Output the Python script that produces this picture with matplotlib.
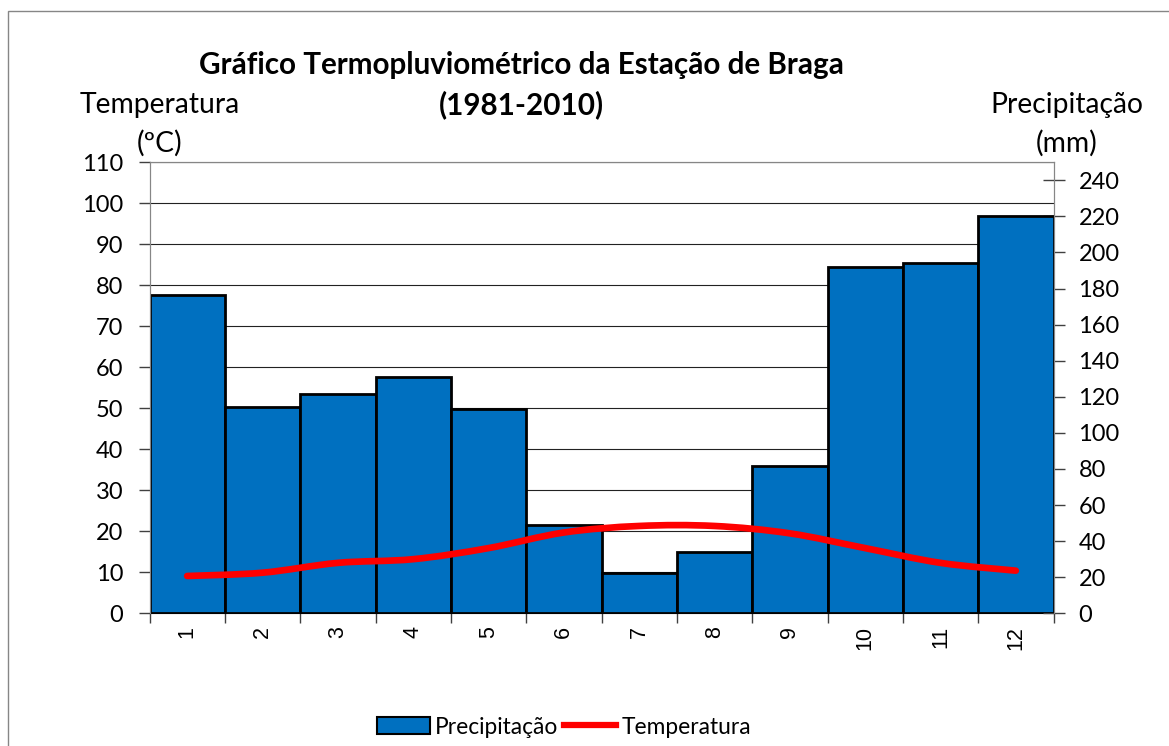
import numpy as np
import matplotlib
matplotlib.use("Agg")
import matplotlib.pyplot as plt
from matplotlib.path import Path
from matplotlib.patches import PathPatch, Rectangle, Patch
from matplotlib.lines import Line2D

# dados (normais 1981-2010, Braga)
meses = [1, 2, 3, 4, 5, 6, 7, 8, 9, 10, 11, 12]
precipitacao = [176.4, 114.5, 121.8, 130.8, 113.2, 48.9, 22.2, 34.1, 81.7, 192.0, 194.2, 220.4]
temperatura = [9.1, 9.9, 12.3, 13.2, 15.9, 19.7, 21.3, 21.3, 19.5, 15.9, 12.3, 10.4]
temp_ticks = list(range(0, 111, 10))
prec_ticks = list(range(0, 241, 20))

W, H = 1169, 746
plt.rcParams['font.family'] = ['Lato', 'DejaVu Sans']

fig = plt.figure(figsize=(W / 100, H / 100), dpi=100)

def fx(px):
    return px / W

def fy(py):
    return 1 - py / H

# moldura da área do gráfico
fig.patches.append(Rectangle((fx(8), -0.1), 1.2, fy(11.5) + 0.1, transform=fig.transFigure,
                             fill=False, edgecolor='#868686', lw=1.0, zorder=0))

ax = fig.add_axes([fx(149.5), fy(613.3), (1053.5 - 149.5) / W, (613.3 - 162.3) / H])
axr = ax.twinx()

ax.set_xlim(0.5, 12.5)
ax.set_ylim(0, 110)
axr.set_ylim(0, 250)

# grelha (eixo da temperatura) fica atrás das barras
ax.set_yticks(temp_ticks)
ax.yaxis.grid(True, color='#222222', lw=0.8)
ax.set_axisbelow(True)

azul = '#0070C0'
axr.bar(meses, precipitacao, width=1.0, color=azul, edgecolor='black', lw=2.0, zorder=2)

# linha suavizada (bezier tipo Catmull-Rom) desenhada sobre as barras
pts = np.column_stack([meses, temperatura]).astype(float)
verts = [tuple(pts[0])]
codes = [Path.MOVETO]
n = len(pts)
for i in range(n - 1):
    p0 = pts[i - 1] if i > 0 else pts[i]
    p1 = pts[i]
    p2 = pts[i + 1]
    p3 = pts[i + 2] if i + 2 < n else pts[i + 1]
    c1 = p1 + (p2 - p0) / 6.0
    c2 = p2 - (p3 - p1) / 6.0
    verts += [tuple(c1), tuple(c2), tuple(p2)]
    codes += [Path.CURVE4] * 3
axr.add_patch(PathPatch(Path(verts, codes), transform=ax.transData, fill=False,
                        edgecolor='#FF0000', lw=4.8, capstyle='round', joinstyle='round', zorder=5))

# eixos
for s in ['left', 'top', 'right']:
    ax.spines[s].set_color('#868686')
    axr.spines[s].set_color('#868686')
ax.spines['bottom'].set_color('black')
axr.spines['bottom'].set_visible(False)

tick_font = dict(fontsize=17)
ax.set_yticklabels([str(t) for t in temp_ticks], **tick_font)
ax.tick_params(axis='y', direction='out', length=8, width=1, color='#404040', pad=11)
axr.set_yticks(prec_ticks)
axr.set_yticklabels([str(t) for t in prec_ticks], **tick_font)
axr.tick_params(axis='y', direction='inout', length=16, width=1, color='#404040', pad=10)

ax.set_xticks([m - 0.5 for m in meses] + [12.5])
ax.set_xticklabels([])
ax.set_xticks(meses, minor=True)
ax.set_xticklabels([str(m) for m in meses], minor=True, rotation=90,
                   family=['Liberation Sans'], fontsize=15.5)
ax.tick_params(axis='x', which='major', direction='out', length=7, width=1, color='#404040')
ax.tick_params(axis='x', which='minor', length=0, pad=9)

# títulos
fig.text(fx(521), fy(65), 'Gráfico Termopluviométrico da Estação de Braga',
         ha='center', va='center', fontsize=21.3, fontweight='bold')
fig.text(fx(521), fy(105), '(1981-2010)', ha='center', va='center', fontsize=21.3, fontweight='bold')
fig.text(fx(160), fy(105), 'Temperatura', ha='center', va='center', fontsize=20.3)
fig.text(fx(160), fy(143), '(ºC)', ha='center', va='center', fontsize=20.3)
fig.text(fx(1067), fy(105), 'Precipitação', ha='center', va='center', fontsize=20.3)
fig.text(fx(1067), fy(143), '(mm)', ha='center', va='center', fontsize=20.3)

# legenda
handles = [Patch(facecolor=azul, edgecolor='black', lw=1.5),
           Line2D([], [], color='#FF0000', lw=4.5)]
fig.legend(handles, ['Precipitação', 'Temperatura'], loc='center', ncol=2,
           bbox_to_anchor=(fx(564), fy(727)), frameon=False, fontsize=16.4,
           handlelength=2.3, handleheight=0.75, handletextpad=0.22, columnspacing=0.26,
           borderaxespad=0)

fig.savefig('out.png', dpi=100)
